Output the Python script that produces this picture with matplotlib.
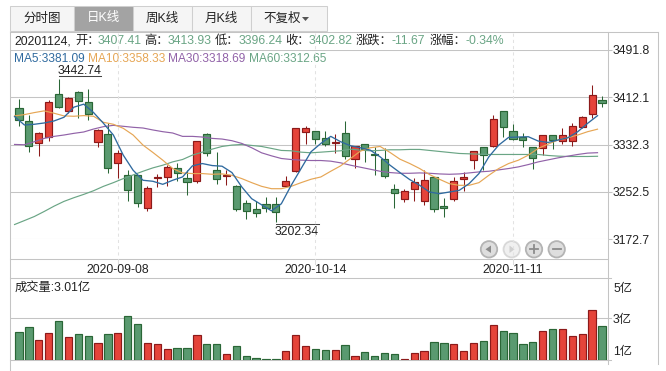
import matplotlib
matplotlib.use('Agg')
import matplotlib.pyplot as plt
from matplotlib.patches import Rectangle, Circle, Polygon

plt.rcParams['font.family'] = ['Liberation Sans', 'Noto Sans CJK SC', 'DejaVu Sans']

W, H = 666, 371

opens = [3393.7, 3371.6, 3335.5, 3345.6, 3417.4, 3389.7, 3420.8, 3403.9, 3337.2, 3349.6,
         3301.6, 3281.8, 3281.8, 3225.2, 3276.1, 3278.4, 3293.6, 3276.7, 3271.0, 3349.6,
         3290.2, 3280.1, 3263.1, 3234.3, 3224.1, 3232.6, 3232.6, 3263.1, 3288.0, 3354.1,
         3354.7, 3342.8, 3334.3, 3351.3, 3308.9, 3332.6, 3315.7, 3308.9, 3258.0, 3240.5,
         3257.5, 3237.7, 3278.4, 3229.2, 3240.5, 3274.4, 3306.6, 3327.5, 3330.4, 3388.6,
         3354.7, 3344.5, 3327.5, 3327.0, 3347.9, 3338.9, 3338.9, 3361.5, 3384.6, 3407.41]
closes = [3374.5, 3330.4, 3351.3, 3403.9, 3396.5, 3410.6, 3405.0, 3384.6, 3356.4, 3293.1,
          3317.4, 3255.8, 3233.7, 3259.7, 3278.4, 3295.3, 3284.6, 3269.3, 3337.7, 3318.5,
          3275.0, 3281.2, 3223.6, 3220.7, 3217.3, 3225.2, 3219.0, 3271.6, 3359.8, 3359.8,
          3342.2, 3332.6, 3336.0, 3313.4, 3329.2, 3324.7, 3314.0, 3279.5, 3250.7, 3254.6,
          3269.9, 3273.3, 3223.6, 3225.8, 3271.6, 3278.4, 3320.8, 3314.0, 3375.0, 3361.5,
          3342.2, 3339.4, 3310.0, 3347.9, 3340.5, 3347.9, 3363.2, 3378.4, 3415.7, 3402.82]
highs = [3409.5, 3382.4, 3353.0, 3407.8, 3442.74, 3411.8, 3423.1, 3426.5, 3358.6, 3368.2,
         3323.6, 3290.2, 3281.8, 3263.1, 3283.5, 3298.7, 3302.1, 3289.1, 3338.9, 3351.3,
         3320.2, 3290.2, 3264.8, 3239.4, 3237.7, 3243.3, 3244.5, 3280.1, 3360.5, 3363.7,
         3354.7, 3355.2, 3349.6, 3372.2, 3330.4, 3332.6, 3328.7, 3325.9, 3265.4, 3258.0,
         3276.1, 3289.1, 3278.4, 3242.8, 3277.8, 3286.9, 3320.8, 3327.5, 3381.8, 3388.6,
         3366.6, 3351.3, 3327.5, 3347.9, 3347.9, 3359.8, 3368.2, 3380.1, 3432.7, 3413.93]
lows = [3364.3, 3320.2, 3313.4, 3338.9, 3394.8, 3385.2, 3377.9, 3374.5, 3328.1, 3284.6,
        3276.7, 3237.1, 3226.9, 3219.6, 3260.9, 3262.6, 3271.6, 3247.9, 3267.6, 3313.4,
        3265.4, 3264.8, 3220.7, 3206.6, 3210.0, 3218.5, 3202.34, 3260.9, 3286.3, 3333.2,
        3332.6, 3329.8, 3318.5, 3308.9, 3293.1, 3303.2, 3281.8, 3276.1, 3225.2, 3235.4,
        3237.1, 3230.9, 3218.5, 3210.0, 3237.1, 3254.6, 3291.4, 3289.1, 3328.1, 3345.6,
        3339.4, 3328.7, 3291.4, 3314.0, 3324.2, 3333.8, 3330.4, 3359.8, 3377.9, 3396.24]

ma5 = [3379.6, 3365.4, 3366.6, 3368.8, 3372.2, 3378.4, 3395.4, 3400.5, 3386.3, 3368.2,
       3348.5, 3314.6, 3289.1, 3272.2, 3270.5, 3265.4, 3272.2, 3277.8, 3296.5, 3300.4,
       3297.0, 3295.9, 3285.2, 3260.9, 3241.1, 3230.9, 3220.7, 3232.6, 3263.7, 3292.0,
       3320.2, 3334.3, 3346.2, 3337.2, 3330.4, 3327.0, 3323.0, 3311.7, 3297.6, 3285.2,
       3273.3, 3263.7, 3252.4, 3249.6, 3252.4, 3255.2, 3266.5, 3283.5, 3311.7, 3331.5,
       3344.5, 3345.1, 3345.6, 3338.3, 3336.0, 3340.0, 3343.9, 3354.1, 3368.2, 3381.09]
ma10 = [3380.7, 3382.9, 3386.3, 3389.2, 3385.2, 3380.7, 3380.1, 3381.2, 3380.1, 3369.9,
        3366.6, 3359.8, 3348.5, 3331.5, 3319.1, 3306.1, 3292.0, 3284.6, 3283.5, 3283.5,
        3282.3, 3282.9, 3280.6, 3275.0, 3268.2, 3262.0, 3258.0, 3258.0, 3262.0, 3268.2,
        3273.9, 3277.8, 3287.4, 3296.5, 3308.9, 3321.3, 3327.0, 3329.2, 3319.1, 3307.8,
        3300.4, 3292.0, 3281.8, 3273.9, 3266.5, 3263.7, 3263.7, 3268.2, 3280.6, 3292.0,
        3300.4, 3306.1, 3314.6, 3325.9, 3333.2, 3340.0, 3343.9, 3348.5, 3354.1, 3358.33]
ma30 = [3332.6, 3332.1, 3337.2, 3342.8, 3346.2, 3348.5, 3351.3, 3353.6, 3358.6, 3362.6,
        3364.8, 3363.2, 3361.5, 3360.3, 3357.0, 3354.1, 3351.9, 3346.2, 3346.2, 3345.1,
        3342.8, 3341.7, 3338.9, 3334.3, 3327.0, 3318.5, 3313.4, 3308.9, 3307.2, 3306.1,
        3305.5, 3305.5, 3304.4, 3301.6, 3297.6, 3294.2, 3290.8, 3287.4, 3285.2, 3284.0,
        3284.0, 3284.6, 3284.0, 3282.9, 3282.3, 3282.9, 3284.6, 3286.3, 3287.4, 3289.7,
        3292.0, 3294.8, 3298.7, 3303.2, 3306.6, 3310.0, 3312.9, 3315.7, 3318.0, 3318.69]
ma60 = [3197.6, 3204.3, 3211.1, 3219.6, 3228.6, 3236.6, 3242.8, 3248.4, 3254.6, 3262.0,
        3268.2, 3275.0, 3281.2, 3287.4, 3293.1, 3297.6, 3303.2, 3307.2, 3314.6, 3319.6,
        3324.7, 3329.2, 3331.5, 3332.6, 3330.9, 3329.2, 3325.9, 3322.5, 3321.9, 3319.6,
        3318.5, 3319.6, 3320.8, 3321.9, 3324.7, 3323.0, 3321.9, 3322.5, 3323.6, 3323.6,
        3324.2, 3324.2, 3322.5, 3320.8, 3319.1, 3317.4, 3316.8, 3316.2, 3315.7, 3315.7,
        3315.7, 3315.7, 3315.7, 3315.7, 3314.0, 3312.9, 3312.3, 3312.3, 3312.3, 3312.65]

volumes = [2.55, 2.92, 1.82, 2.46, 3.47, 2.01, 2.28, 2.10, 1.46, 2.28,
           2.46, 4.01, 3.28, 1.46, 1.37, 1.00, 1.09, 1.09, 2.19, 1.37,
           1.37, 0.46, 1.19, 0.36, 0.18, 0.09, 0.09, 0.82, 2.19, 1.19,
           1.00, 0.91, 0.91, 1.28, 0.36, 0.64, 0.36, 0.55, 0.46, 0.03,
           0.55, 0.73, 1.64, 1.55, 1.37, 0.82, 1.55, 1.73, 3.19, 2.64,
           2.46, 1.37, 1.64, 2.64, 2.74, 2.74, 2.10, 2.28, 4.47, 3.01]

price_ticks = [3491.8, 3412.1, 3332.3, 3252.5, 3172.7]
date_labels = ['2020-09-08', '2020-10-14', '2020-11-11']
date_idx = [10, 30, 50]
tabs = ['分时图', '日K线', '周K线', '月K线', '不复权']
vol_labels = ['5亿', '3亿', '1亿']

RED, RED_EDGE = '#e5443a', '#8c1a1a'
GREEN, GREEN_EDGE = '#5a9a70', '#2a6636'
GRID = '#c4c4c4'
BLUE, ORANGE, PURPLE, TEAL = '#2f6a9f', '#e6a655', '#9162a8', '#6aa585'
TEXT = '#222222'
FS = 8.8
LW = 0.75  # one pixel at dpi 100

fig = plt.figure(figsize=(W / 100, H / 100), dpi=100, facecolor='white')


def px_axes(left, top, right, bottom):
    return fig.add_axes([left / W, 1 - bottom / H, (right - left) / W, (bottom - top) / H])


# chrome layer in pixel coordinates
bg = fig.add_axes([0, 0, 1, 1])
bg.set_xlim(0, W)
bg.set_ylim(H, 0)
bg.axis('off')

tab_edges = [10, 74, 132.5, 191.5, 250.5, 326.5]
for i, name in enumerate(tabs):
    active = i == 1
    bg.add_patch(Rectangle((tab_edges[i], 5.5), tab_edges[i + 1] - tab_edges[i], 25,
                           fc='#a3a3a3' if active else '#f5f5f5', ec='#cfcfcf', lw=LW))
    cx = (tab_edges[i] + tab_edges[i + 1]) / 2
    if i == 4:
        cx -= 6
        bg.add_patch(Polygon([[302, 17], [309, 17], [305.5, 21]], fc='#555555', ec='none'))
    bg.text(cx, 18.5, name, ha='center', va='center', fontsize=FS + 0.2,
            color='white' if active else TEXT)

for x0, x1, y in [(10, 658, 31.7), (10, 607.5, 259.3), (10, 611, 278.3)]:
    bg.plot([x0, x1], [y, y], color=GRID, lw=LW)
bg.plot([10, 10], [31.7, 371], color=GRID, lw=LW)
bg.plot([607.5, 607.5], [31.7, 364], color=GRID, lw=LW)
bg.plot([658, 658], [31.7, 364], color=GRID, lw=LW)

info = [(14.3, '20201124,', TEXT), (75, '开：', TEXT), (97.7, '3407.41', TEAL),
        (144, '高：', TEXT), (167.7, '3413.93', TEAL), (215, '低：', TEXT),
        (238.3, '3396.24', TEAL), (285, '收：', TEXT), (308.7, '3402.82', TEAL),
        (355.7, '涨跌：', TEXT), (391.7, '-11.67', TEAL), (429.7, '涨幅：', TEXT),
        (465.7, '-0.34%', TEAL)]
for x, s, c in info:
    bg.text(x, 41, s, ha='left', va='center', fontsize=FS, color=c)

ma_text = [(14.3, 'MA5:3381.09', BLUE), (87.7, 'MA10:3358.33', ORANGE),
           (168.3, 'MA30:3318.69', PURPLE), (249.3, 'MA60:3312.65', TEAL)]
for x, s, c in ma_text:
    bg.text(x, 59.5, s, ha='left', va='center', fontsize=8.6, color=c)

# price panel
ax = px_axes(10, 50, 607.5, 239.3)
ax.patch.set_alpha(0)
ax.set_xlim(-0.911, 59.56)
ax.set_ylim(price_ticks[-1], price_ticks[0])
for s in ax.spines.values():
    s.set_visible(False)
ax.set_xticks([])
ax.yaxis.tick_right()
ax.set_yticks(price_ticks)
ax.set_yticklabels(['%.1f' % p for p in price_ticks], fontsize=FS, color=TEXT)
ax.tick_params(axis='y', length=3, color=GRID, width=LW, pad=1)
ax.grid(axis='y', color=GRID, lw=LW)
ax.set_axisbelow(True)

for i in date_idx:
    ax.plot([i, i], [price_ticks[-1] - 26, price_ticks[0] + 31], color='#e2e2e2', lw=LW,
            ls=(0, (3, 3)), clip_on=False, zorder=1)

xs = list(range(len(opens)))
fills = [RED if c >= o else GREEN for o, c in zip(opens, closes)]
edges = [RED_EDGE if c >= o else GREEN_EDGE for o, c in zip(opens, closes)]
ax.vlines(xs, lows, highs, colors=edges, lw=LW, zorder=2)
ax.bar(xs, [abs(c - o) for o, c in zip(opens, closes)], bottom=[min(o, c) for o, c in zip(opens, closes)],
       width=0.72, color=fills, edgecolor=edges, lw=0.85, zorder=3)

line_x = [i - 0.45 for i in xs]
ax.plot(line_x, ma60, color=TEAL, lw=0.85, zorder=4)
ax.plot(line_x, ma30, color=PURPLE, lw=0.85, zorder=4)
ax.plot(line_x, ma10, color=ORANGE, lw=0.85, zorder=4)
ax.plot(line_x, ma5, color=BLUE, lw=0.95, zorder=5)

bg.plot([58.7, 101.3], [76.3, 76.3], color='#444444', lw=LW)
bg.text(80, 70.7, '3442.74', ha='center', va='center', fontsize=FS, color=TEXT)
bg.plot([275.7, 318.7], [224, 224], color='#444444', lw=LW)
bg.text(297, 231.7, '3202.34', ha='center', va='center', fontsize=FS, color=TEXT)

for i, label in zip(date_idx, date_labels):
    px = 19 + 9.88 * i
    bg.plot([px, px], [259.3, 264], color='#dddddd', lw=LW)
    bg.text(px, 269.7, label, ha='center', va='center', fontsize=FS, color=TEXT)

# zoom buttons
for x, alpha in [(489, 1), (511.7, 0.45), (534, 1), (556.7, 1)]:
    bg.add_patch(Circle((x, 249.3), 8.2, fc='#dedede', ec='#b4b4b4', lw=1.3, alpha=alpha, zorder=6))
bg.add_patch(Polygon([[485.5, 249.3], [491, 245.5], [491, 253]], fc='#8c8c8c', ec='none', zorder=7))
bg.add_patch(Polygon([[514.5, 249.3], [509.5, 245.5], [509.5, 253]], fc='#d0d0d0', ec='none', zorder=7))
bg.plot([530, 538], [249.3, 249.3], color='#8c8c8c', lw=1.3, zorder=7)
bg.plot([534, 534], [245.3, 253.3], color='#8c8c8c', lw=1.3, zorder=7)
bg.plot([552.7, 560.7], [249.3, 249.3], color='#8c8c8c', lw=1.3, zorder=7)

# volume panel
vax = px_axes(10, 278.3, 607.5, 359.5)
vax.patch.set_alpha(0)
vax.set_xlim(-0.911, 59.56)
vax.set_ylim(0, 81.2 / (32.9 / 3))
for s in vax.spines.values():
    s.set_visible(False)
vax.set_xticks([])
vax.set_yticks([])
vax.axhline(41.2 * 3 / 32.9, color=GRID, lw=LW, zorder=1)
vax.axhline(0, color=GRID, lw=LW, zorder=1, clip_on=False)
vax.bar(xs, volumes, width=0.74, color=fills, edgecolor=edges, lw=0.85, zorder=3)

bg.text(14.3, 287.7, '成交量:3.01亿', ha='left', va='center', fontsize=FS, color=TEXT)
bg.plot([607.5, 611], [318.3, 318.3], color=GRID, lw=LW)
bg.plot([607.5, 611], [359.5, 359.5], color=GRID, lw=LW)
for y, s in zip([289, 320, 352], vol_labels):
    bg.text(613, y, s, ha='left', va='center', fontsize=FS, color=TEXT)

fig.savefig('out.png', dpi=100)
